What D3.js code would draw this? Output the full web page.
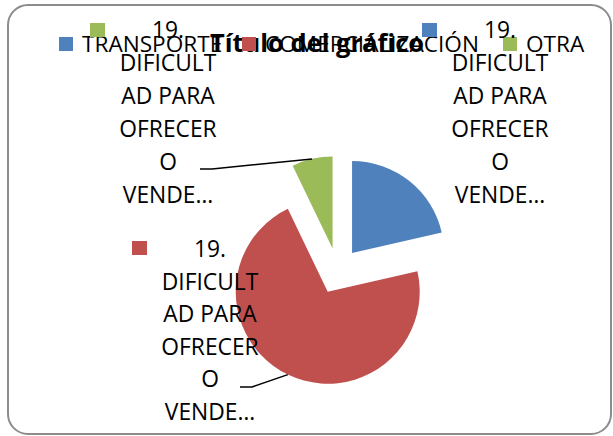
<!DOCTYPE html>
<html><head><meta charset="utf-8">
<script src="https://cdn.jsdelivr.net/npm/d3@7"></script>
<style>html,body{margin:0;padding:0;background:#fff;}svg{display:block;}</style>
</head><body>
<script>
// ---- data ----
const categories = ["TRANSPORTE", "COMERCIALIZACIÓN", "OTRA"];
const values = [3, 10, 1];
const colors = ["#4F81BD", "#C0504D", "#9BBB59"];
const title = "Título del gráfico";
const labelLines = ["19.", "DIFICULT", "AD PARA", "OFRECER", "O", "VENDE…"];

const W = 613, H = 436;
const FONT = "'Open Sans', 'DejaVu Sans', sans-serif";
const svg = d3.select("body").append("svg").attr("width", W).attr("height", H);

// chart area border
svg.append("rect").attr("x", 8).attr("y", 5).attr("width", 603).attr("height", 429)
  .attr("rx", 20).attr("ry", 20).attr("fill", "#fff").attr("stroke", "#8c8c8c").attr("stroke-width", 2);

// title
svg.append("text").attr("x", 317).attr("y", 52).attr("text-anchor", "middle")
  .attr("font-family", FONT).attr("font-weight", "bold").attr("font-size", 25.5).attr("fill", "#000")
  .text(title);

// legend
const legendX = [59, 242, 503];
const lg = svg.append("g");
categories.forEach((c, i) => {
  lg.append("rect").attr("x", legendX[i]).attr("y", 37).attr("width", 14).attr("height", 14).attr("fill", colors[i]);
  lg.append("text").attr("x", legendX[i] + 23).attr("y", 51.5).attr("font-family", FONT)
    .attr("font-size", 22.6).attr("fill", "#000").text(c);
});

// pie
const cx = 337.7, cy = 271, R = 92, explode = 23;
const pie = d3.pie().sort(null).value(d => d)(values);
const arc = d3.arc().innerRadius(0).outerRadius(R);
const g = svg.append("g").attr("transform", `translate(${cx},${cy})`);
function offset(d) {
  const a = (d.startAngle + d.endAngle) / 2;
  return [explode * Math.sin(a), -explode * Math.cos(a)];
}
g.selectAll("path").data(pie).enter().append("path")
  .attr("d", arc)
  .attr("fill", (d, i) => colors[i])
  .attr("transform", d => { const o = offset(d); return `translate(${o[0]},${o[1]})`; });

// data labels layout
const labelLayout = [
  { cx: 500, y0: 38, step: 33, kx: 422, ky: 23, leader: null },
  { cx: 210, y0: 257, step: 32.5, kx: 132, ky: 241, leader: [240, 387, 252] },
  { cx: 168, y0: 38, step: 33, kx: 90, ky: 23, leader: [200, 169, 212] }
];
pie.forEach((d, i) => {
  const L = labelLayout[i];
  if (L.leader) {
    const o = offset(d);
    const a = (d.startAngle + d.endAngle) / 2;
    const ex = cx + o[0] + R * Math.sin(a), ey = cy + o[1] - R * Math.cos(a);
    svg.append("polyline")
      .attr("points", `${L.leader[0]},${L.leader[1]} ${L.leader[2]},${L.leader[1]} ${ex},${ey}`)
      .attr("fill", "none").attr("stroke", "#000").attr("stroke-width", 1.5);
  }
});
pie.forEach((d, i) => {
  const L = labelLayout[i];
  svg.append("rect").attr("x", L.kx).attr("y", L.ky).attr("width", 15).attr("height", 14).attr("fill", colors[i]);
  const t = svg.append("text").attr("text-anchor", "middle").attr("font-family", FONT)
    .attr("font-size", 22.8).attr("fill", "#000");
  labelLines.forEach((ln, j) => {
    t.append("tspan").attr("x", L.cx).attr("y", L.y0 + j * L.step).text(ln);
  });
});
</script>
</body></html>
